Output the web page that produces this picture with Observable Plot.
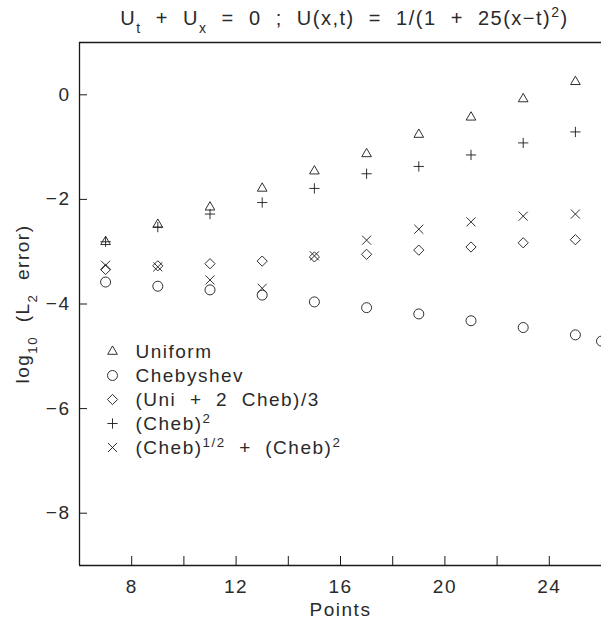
<!DOCTYPE html>
<html>
<head>
<meta charset="utf-8">
<script src="https://cdn.jsdelivr.net/npm/d3@7"></script>
<script src="https://cdn.jsdelivr.net/npm/@observablehq/plot@0.6"></script>
<style>
  html, body { margin: 0; padding: 0; background: #fff; }
  svg text { white-space: pre; }
</style>
</head>
<body>
<div id="chart"></div>
<script>
// ---- data ----
const points      = [7, 9, 11, 13, 15, 17, 19, 21, 23, 25];
const uniform     = [-2.81, -2.48, -2.15, -1.79, -1.46, -1.13, -0.76, -0.43, -0.08, 0.25];
const chebPoints  = [7, 9, 11, 13, 15, 17, 19, 21, 23, 25, 26];
const chebyshev   = [-3.58, -3.66, -3.73, -3.83, -3.96, -4.07, -4.19, -4.32, -4.45, -4.59, -4.71];
const mixed       = [-3.34, -3.27, -3.23, -3.18, -3.10, -3.05, -2.97, -2.91, -2.83, -2.77];
const chebSq      = [-2.81, -2.53, -2.28, -2.06, -1.79, -1.51, -1.37, -1.15, -0.92, -0.71];
const chebSqrtSq  = [-3.26, -3.29, -3.54, -3.70, -3.08, -2.78, -2.57, -2.43, -2.32, -2.28];

const seriesNames = ["Uniform", "Chebyshev", "(Uni  +  2  Cheb)/3", "(Cheb)^{2}", "(Cheb)^{1/2}  +  (Cheb)^{2}"];
const seriesSymbols = ["triangle2", "circle", "diamond2", "plus", "times"];
const seriesR = [4.6, 5, 4.6, 3.4, 4.2];

const xTicks = [8, 10, 12, 14, 16, 18, 20, 22, 24];
const xLabelTicks = [8, 12, 16, 20, 24];
const yTicks = [0, -2, -4, -6, -8];
const xDomain = [6, 26];
const yDomain = [-9, 1];

const titleText = "U_{t}  +  U_{x}  =  0  ;  U(x,t)  =  1/(1  +  25(x−t)^{2})";
const xLabel = "Points";
const yLabel = "log_{10}  (L_{2}  error)";

// ---- build ----
function table(xs, ys) { return xs.map((x, i) => ({x, y: ys[i]})); }
const seriesData = [
  table(points, uniform),
  table(chebPoints, chebyshev),
  table(points, mixed),
  table(points, chebSq),
  table(points, chebSqrtSq)
];

const ink = "#1a1a1a";
const textInk = "#2a2a2a";
const marks = [];

// frame lines
marks.push(Plot.ruleX([xDomain[0]], {stroke: ink, strokeWidth: 1.3}));
marks.push(Plot.ruleY([yDomain[0]], {stroke: ink, strokeWidth: 1.3}));
marks.push(Plot.ruleY([yDomain[1]], {stroke: ink, strokeWidth: 1.3}));
marks.push(Plot.ruleX([xDomain[1]], {stroke: "#bbb", strokeWidth: 1, strokeDasharray: "6,10"}));

// axes
marks.push(Plot.axisX(xTicks, {tickSize: -9, tickFormat: () => "", stroke: ink, label: null}));
marks.push(Plot.axisX(xLabelTicks, {tickSize: 0, tickPadding: 14, label: null, fill: textInk}));
marks.push(Plot.axisY(yTicks, {tickSize: -8, tickFormat: () => "", stroke: ink, label: null}));
marks.push(Plot.axisY(yTicks, {tickSize: 0, tickPadding: 9, label: null, fill: textInk,
  tickFormat: d => d < 0 ? "−" + Math.abs(d) : String(d)}));

// data points
seriesData.forEach((data, i) => {
  marks.push(Plot.dot(data, {x: "x", y: "y", symbol: () => seriesSymbols[i], r: seriesR[i],
    fill: "none", stroke: ink, strokeWidth: 0.9}));
});

// legend inside the plot
seriesNames.forEach((name, i) => {
  marks.push(Plot.dot([name], {frameAnchor: "top-left", dx: 33, dy: 309 + 24 * i,
    symbol: () => seriesSymbols[i], r: seriesR[i], fill: "none", stroke: ink, strokeWidth: 0.9}));
  marks.push(Plot.text([name], {frameAnchor: "top-left", dx: 56, dy: 309 + 24 * i,
    text: d => d, textAnchor: "start", lineAnchor: "middle", fill: textInk, letterSpacing: "1.9px"}));
});

// title and axis labels
marks.push(Plot.text([titleText], {frameAnchor: "top", dx: 4, dy: -24, text: d => d, lineAnchor: "middle",
  fill: textInk, fontSize: 20, letterSpacing: "3.2px"}));
marks.push(Plot.text([xLabel], {frameAnchor: "bottom", dy: 44, text: d => d, lineAnchor: "middle", fill: textInk, letterSpacing: "2px"}));
marks.push(Plot.text([yLabel], {frameAnchor: "left", dx: -57, rotate: -90, text: d => d,
  textAnchor: "middle", lineAnchor: "middle", fill: textInk, letterSpacing: "2px"}));

const chart = Plot.plot({
  width: 601,
  height: 623,
  marginTop: 42,
  marginBottom: 58,
  marginLeft: 79,
  marginRight: 0,
  x: {domain: xDomain},
  y: {domain: yDomain},
  style: {fontFamily: "'Liberation Sans', 'DejaVu Sans', sans-serif", fontSize: "19px", letterSpacing: "1.5px", color: ink, background: "#fff"},
  marks
});

// sub/superscripts as tspans
function richify(svg) {
  d3.select(svg).selectAll("text").each(function() {
    const t = this.textContent;
    if (!/[\^_]\{/.test(t)) return;
    const sel = d3.select(this);
    sel.text("");
    const re = /([\^_])\{([^}]*)\}/g;
    let last = 0, m;
    while ((m = re.exec(t))) {
      if (m.index > last) sel.append("tspan").text(t.slice(last, m.index));
      sel.append("tspan")
        .attr("baseline-shift", m[1] === "^" ? "super" : "sub")
        .attr("font-size", "70%")
        .text(m[2]);
      last = re.lastIndex;
    }
    if (last < t.length) sel.append("tspan").text(t.slice(last));
  });
}
richify(chart);
document.getElementById("chart").appendChild(chart);
</script>
</body>
</html>
